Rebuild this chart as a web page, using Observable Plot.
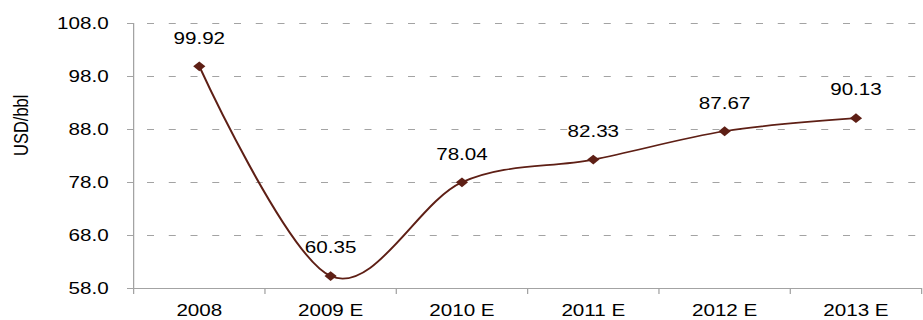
<!DOCTYPE html>
<html><head><meta charset="utf-8">
<script src="https://cdn.jsdelivr.net/npm/d3@7"></script>
<script src="https://cdn.jsdelivr.net/npm/@observablehq/plot@0.6"></script>
<style>
  html,body{margin:0;padding:0;background:#fff}
  #chart svg{display:block}
</style>
</head><body><div id="chart"></div>
<script>
// ---- data ----
const categories = ["2008", "2009 E", "2010 E", "2011 E", "2012 E", "2013 E"];
const prices = [99.92, 60.35, 78.04, 82.33, 87.67, 90.13];
const yTicks = [58, 68, 78, 88, 98, 108];
const yLabel = "USD/bbl";

// ---- build ----
const S = 1.25;            // the reference is horizontally stretched
const W = 923 / S;
const H = 320;
const rows = categories.map((c, i) => ({i, c, v: prices[i]}));
const idx = categories.map((_, i) => i);
const bounds = d3.range(categories.length + 1).map(i => i - 0.5);
const lineColor = "#5e1f15";
const axisColor = "#a3a3a3";
const font = "'Liberation Sans', Arial, sans-serif";

const chart = Plot.plot({
  width: W, height: H,
  marginLeft: 133 / S, marginRight: 2 / S, marginTop: 23, marginBottom: 32,
  style: {fontFamily: font, fontSize: "16.5px", color: "#000", background: "#fff"},
  x: {type: "linear", domain: [-0.5, categories.length - 0.5]},
  y: {domain: [yTicks[0], yTicks[yTicks.length - 1]]},
  marks: [
    Plot.ruleY(yTicks.slice(1), {stroke: axisColor, strokeWidth: 1, strokeDasharray: "5.6,11.8", strokeDashoffset: 6.2}),
    Plot.ruleX([bounds[0]], {stroke: axisColor, strokeWidth: 1}),
    Plot.ruleY([yTicks[0]], {stroke: axisColor, strokeWidth: 1}),
    Plot.axisY(yTicks, {tickFormat: d => d.toFixed(1), tickSize: 6 / S, tickPadding: 19 / S, stroke: axisColor, fill: "#000", label: null}),
    Plot.axisX(bounds, {tickFormat: () => "", tickSize: 6, stroke: axisColor, label: null}),
    Plot.axisX(idx, {tickFormat: i => categories[i], tickSize: 0, tickPadding: 16, fill: "#000", label: null}),
    Plot.text([yLabel], {frameAnchor: "left", rotate: -90, dx: (20.5 - 133) / S, fill: "#000", fontSize: 16.5}),
    Plot.line(rows, {x: "i", y: "v", curve: "cardinal", stroke: lineColor, strokeWidth: 1.7}),
    Plot.dot(rows, {x: "i", y: "v", symbol: "diamond2", r: 4.4, fill: lineColor, stroke: "none"}),
    Plot.text(rows, {x: "i", y: "v", text: d => d.v.toFixed(2), dy: -28, fill: "#000", fontSize: 16.5})
  ]
});

chart.setAttribute("width", 923);
chart.setAttribute("height", H);
chart.setAttribute("preserveAspectRatio", "none");
chart.style.width = "923px";
chart.style.height = H + "px";
chart.style.maxWidth = "none";
document.getElementById("chart").appendChild(chart);
</script>
</body></html>
